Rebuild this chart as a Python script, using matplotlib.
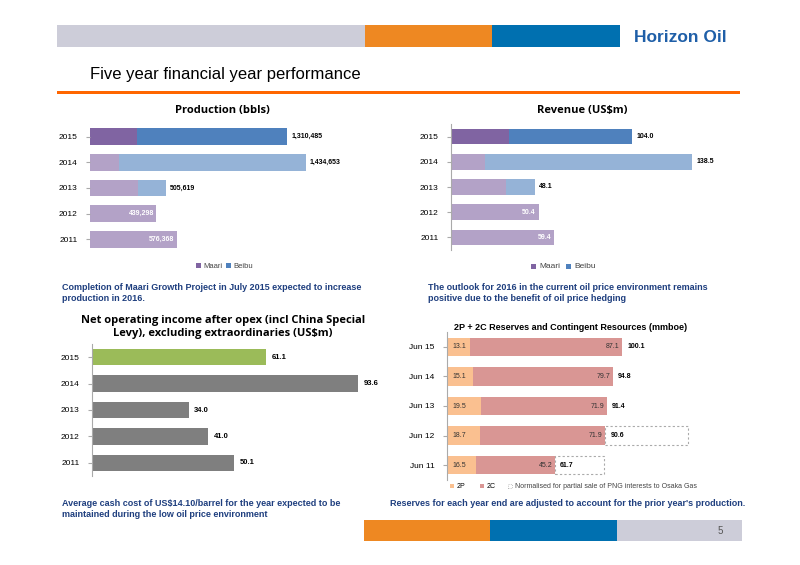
import matplotlib.pyplot as plt
from matplotlib.patches import Rectangle

# data
years = ['2011', '2012', '2013', '2014', '2015']
prod_maari = [576368, 439298, 316000, 190000, 315000]
prod_total = [576368, 439298, 505619, 1434653, 1310485]
prod_labels = ['576,368', '439,298', '505,619', '1,434,653', '1,310,485']
rev_maari = [59.4, 50.4, 31.6, 19.8, 33.4]
rev_total = [59.4, 50.4, 48.1, 138.5, 104.0]
noi = [50.1, 41.0, 34.0, 93.6, 61.1]
res_years = ['Jun 11', 'Jun 12', 'Jun 13', 'Jun 14', 'Jun 15']
res_2p = [16.5, 18.7, 19.5, 15.1, 13.1]
res_2c = [45.2, 71.9, 71.9, 79.7, 87.1]
res_total = [61.7, 90.6, 91.4, 94.8, 100.1]
res_norm = [89.7, 137.7, None, None, None]

W, H = 800, 565
fig = plt.figure(figsize=(8, 5.65), dpi=100)
plt.rcParams['font.family'] = ['Liberation Sans', 'DejaVu Sans']

def px_axes(x0, y0, x1, y1):
    return fig.add_axes([x0 / W, 1 - y1 / H, (x1 - x0) / W, (y1 - y0) / H])

def rect(x0, y0, x1, y1, c):
    fig.add_artist(Rectangle((x0 / W, 1 - y1 / H), (x1 - x0) / W, (y1 - y0) / H,
                             transform=fig.transFigure, color=c, lw=0))

def txt(x, y, s, **kw):
    fig.text(x / W, 1 - y / H, s, **kw)

# header and footer
rect(57, 25, 365, 47, '#CDCDD9')
rect(365, 25, 492, 47, '#EE8822')
rect(492, 25, 620, 47, '#0070B0')
txt(680, 37, 'Horizon Oil', fontsize=12.5, fontweight='bold', color='#1F5FA8', ha='center', va='center')
txt(90, 75, 'Five year financial year performance', fontsize=12, va='center')
rect(57, 91, 740, 94, '#FF6600')
rect(364, 520, 490, 541, '#EE8822')
rect(490, 520, 617, 541, '#0070B0')
rect(617, 520, 742, 541, '#CDCDD9')
txt(720, 531, '5', fontsize=7, color='#555555', ha='center', va='center')

blue_txt = '#1F3F7F'
tkw = dict(fontsize=6.5, fontweight='bold', color=blue_txt, va='center', linespacing=1.25)
txt(62, 293, 'Completion of Maari Growth Project in July 2015 expected to increase\nproduction in 2016.', **tkw)
txt(428, 293, 'The outlook for 2016 in the current oil price environment remains\npositive due to the benefit of oil price hedging', **tkw)
txt(62, 509, 'Average cash cost of US$14.10/barrel for the year expected to be\nmaintained during the low oil price environment', **tkw)
txt(390, 503, "Reserves for each year end are adjusted to account for the prior year's production.", **tkw)

def style(ax, labels, xmax):
    ax.set_xlim(0, xmax)
    ax.set_ylim(-0.5, 4.5)
    ax.set_yticks(range(5))
    ax.set_yticklabels(labels, fontsize=6)
    ax.set_xticks([])
    for s in ['top', 'right', 'bottom']:
        ax.spines[s].set_visible(False)
    ax.spines['left'].set_color('#AAAAAA')
    ax.tick_params(axis='y', length=3, color='#AAAAAA', pad=6)
    ax.patch.set_alpha(0)

light_m, light_b = '#B3A2C7', '#95B3D7'
dark_m, dark_b = '#8064A2', '#4F81BD'
title_font = ['Open Sans', 'DejaVu Sans']

# production
ax = px_axes(90, 124, 380, 252)
for i in range(5):
    m = prod_maari[i]
    b = prod_total[i] - m
    cm = dark_m if i == 4 else light_m
    cb = dark_b if i == 4 else light_b
    ax.barh(i, m, height=0.65, color=cm)
    if b > 0:
        ax.barh(i, b, left=m, height=0.65, color=cb)
        ax.text(prod_total[i] + 25000, i, prod_labels[i], fontsize=5, fontweight='bold', va='center')
    else:
        ax.text(prod_total[i] - 15000, i, prod_labels[i], fontsize=5, fontweight='bold', color='white', va='center', ha='right')
style(ax, years, 1.925e6)
ax.spines['left'].set_visible(False)
txt(222, 110, 'Production (bbls)', fontsize=8, fontweight='bold', ha='center', va='center', family=title_font)
rect(196, 263, 201, 268, dark_m); txt(203, 266, 'Maari', fontsize=5.5, va='center', color='#444444')
rect(226, 263, 231, 268, dark_b); txt(233, 266, 'Beibu', fontsize=5.5, va='center', color='#444444')

# revenue
ax = px_axes(451, 124, 760, 250)
for i in range(5):
    m = rev_maari[i]
    b = rev_total[i] - m
    cm = dark_m if i == 4 else light_m
    cb = dark_b if i == 4 else light_b
    ax.barh(i, m, height=0.62, color=cm)
    if b > 0.01:
        ax.barh(i, b, left=m, height=0.62, color=cb)
        ax.text(rev_total[i] + 2.5, i, f'{rev_total[i]:.1f}', fontsize=5, fontweight='bold', va='center')
    else:
        ax.text(rev_total[i] - 2, i, f'{rev_total[i]:.1f}', fontsize=5, fontweight='bold', color='white', va='center', ha='right')
style(ax, years, 177.6)
txt(582, 110, 'Revenue (US$m)', fontsize=8, fontweight='bold', ha='center', va='center', family=title_font)
rect(531, 264, 536, 269, dark_m); txt(539, 266, 'Maari', fontsize=6, va='center', color='#444444')
rect(566, 264, 571, 269, dark_b); txt(574, 266, 'Beibu', fontsize=6, va='center', color='#444444')

# net operating income
ax = px_axes(92, 344, 390, 476)
cols = ['#7F7F7F'] * 4 + ['#9BBB59']
ax.barh(range(5), noi, height=0.62, color=cols)
for i, v in enumerate(noi):
    ax.text(v + 2, i, f'{v:.1f}', fontsize=5.5, fontweight='bold', va='center')
style(ax, years, 104.9)
txt(223, 327, 'Net operating income after opex (incl China Special\nLevy), excluding extraordinaries (US$m)',
    fontsize=8, fontweight='bold', ha='center', va='center', linespacing=1.35, family=title_font)

# reserves
ax = px_axes(447, 332, 760, 480)
for i in range(5):
    if res_norm[i]:
        ax.barh(i, res_norm[i] - res_total[i], left=res_total[i], height=0.62,
                facecolor='none', edgecolor='#AAAAAA', ls=(0, (2, 2)), lw=0.8)
ax.barh(range(5), res_2p, height=0.62, color='#FAC090')
ax.barh(range(5), res_2c, left=res_2p, height=0.62, color='#D99694')
for i in range(5):
    ax.text(3, i, f'{res_2p[i]:.1f}', fontsize=5, va='center', color='#333333')
    ax.text(res_total[i] - 1.5, i, f'{res_2c[i]:.1f}', fontsize=5, va='center', ha='right', color='#333333')
    ax.text(res_total[i] + 3, i, f'{res_total[i]:.1f}', fontsize=5, fontweight='bold', va='center')
style(ax, res_years, 179)
txt(571, 328, '2P + 2C Reserves and Contingent Resources (mmboe)', fontsize=6.5, fontweight='bold', ha='center', va='center')
rect(450, 484, 454, 488, '#FAC090'); txt(457, 486, '2P', fontsize=5, va='center')
rect(480, 484, 484, 488, '#D99694'); txt(487, 486, '2C', fontsize=5, va='center')
fig.add_artist(Rectangle((508 / W, 1 - 488 / H), 4 / W, 4 / H, transform=fig.transFigure,
                         facecolor='none', edgecolor='#AAAAAA', lw=0.6, ls=':'))
txt(515, 486, 'Normalised for partial sale of PNG interests to Osaka Gas', fontsize=5, va='center', color='#444444')

fig.savefig('out.png', dpi=100)
